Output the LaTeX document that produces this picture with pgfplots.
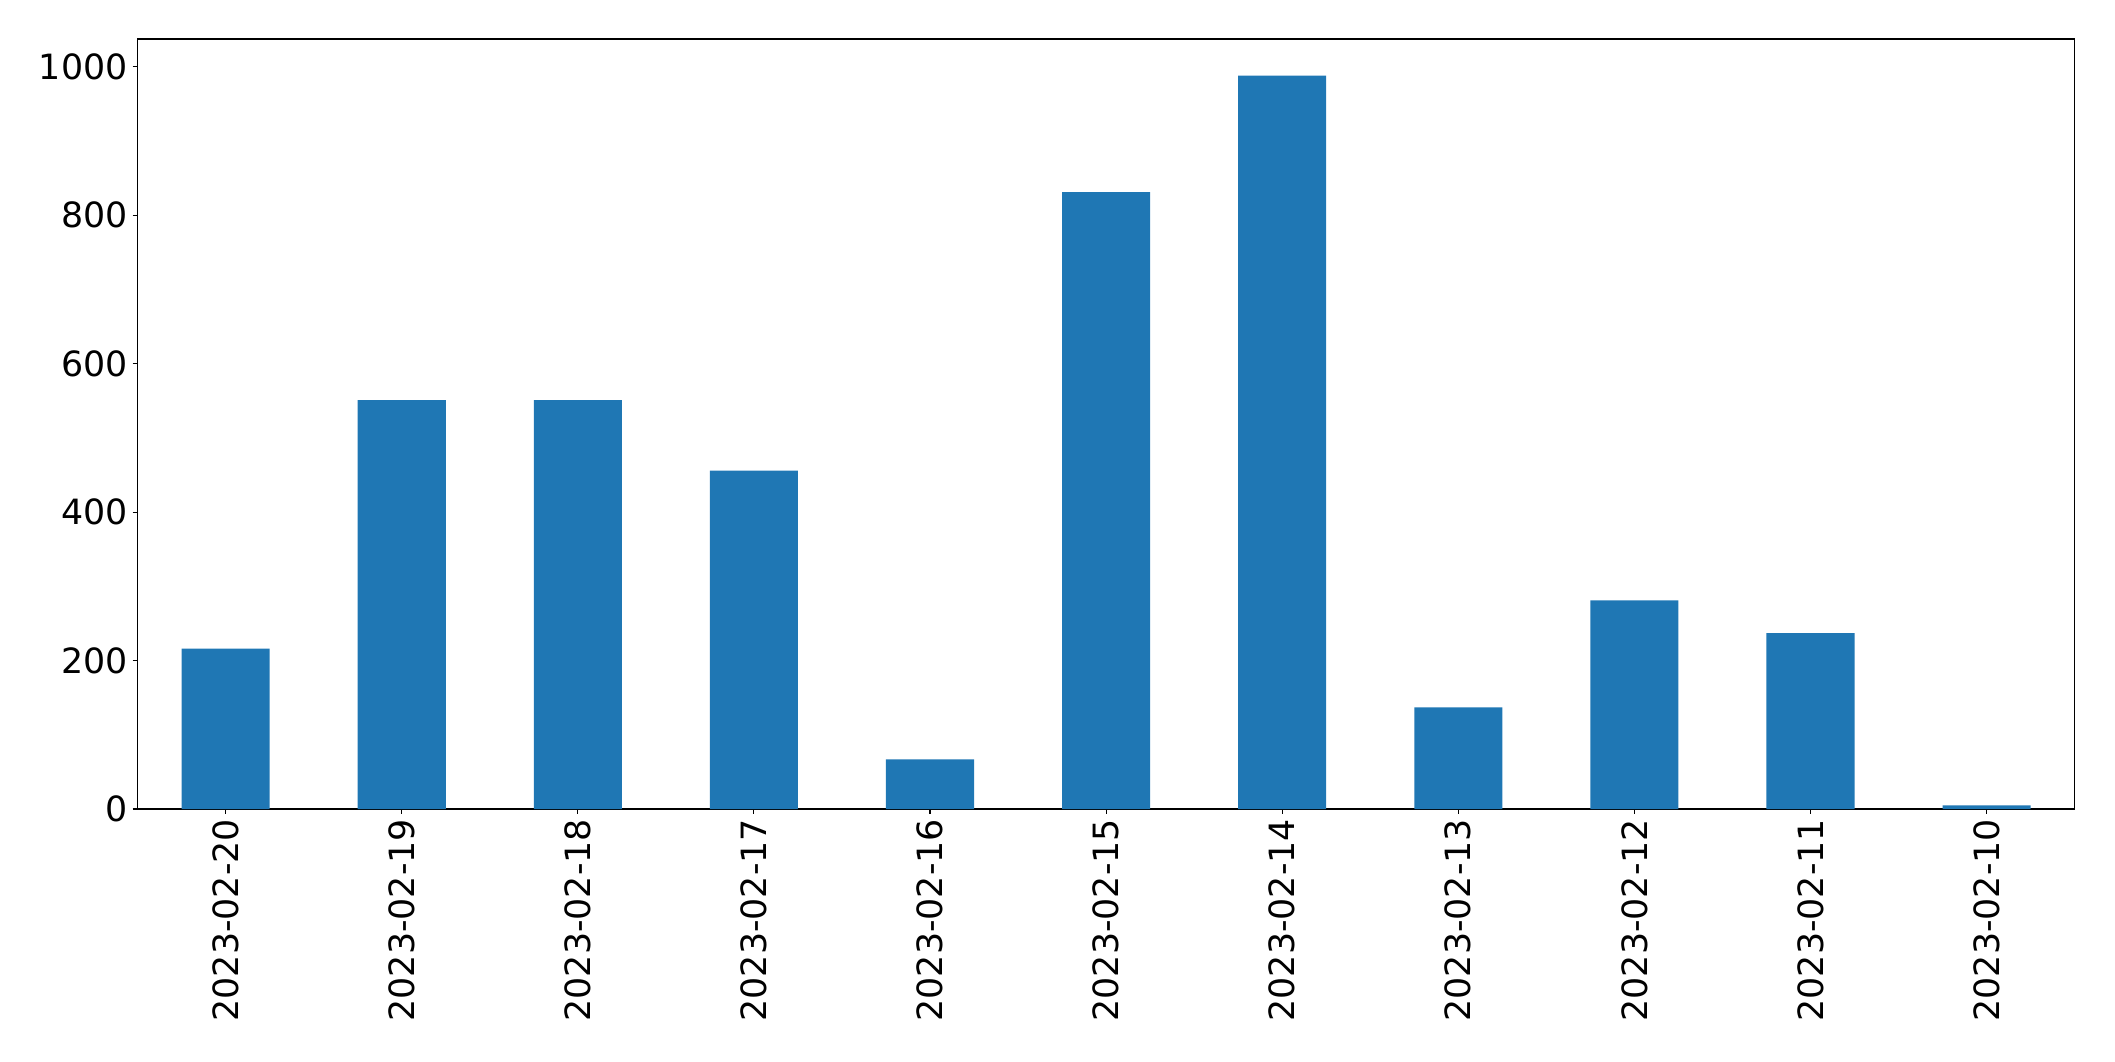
\documentclass[border=0pt]{standalone}
\usepackage{fontspec}
\setmainfont{DejaVu Sans}
\usepackage{pgfplots}
\pgfplotsset{compat=1.18}
\definecolor{mplblue}{HTML}{1F77B4}
\begin{document}
\begin{tikzpicture}
\path[use as bounding box] (-68.8pt,-126pt) rectangle (988.7pt,404.5pt);
\begin{axis}[
  at={(0pt,0pt)}, anchor=south west,
  scale only axis, width=968.5pt, height=385pt,
  xmin=-0.5, xmax=10.5, ymin=0, ymax=1037.4,
  xtick={0,1,2,3,4,5,6,7,8,9,10},
  xticklabels={2023-02-20,2023-02-19,2023-02-18,2023-02-17,2023-02-16,2023-02-15,2023-02-14,2023-02-13,2023-02-12,2023-02-11,2023-02-10},
  x tick label style={rotate=90, anchor=east, inner sep=2.4pt},
  y tick label style={inner sep=2.4pt},
  ytick={0,200,400,600,800,1000},
  tick align=outside, tick pos=left,
  major tick length=2.43pt,
  every tick/.style={black, line width=0.55pt},
  axis line style={line width=0.55pt},
  font=\fontsize{17.4}{21}\selectfont,
  /pgf/number format/assume math mode=true,
  /pgf/number format/1000 sep={},
]
\addplot[ybar, bar width=0.5, fill=mplblue, draw=none] coordinates {
  (0,216) (1,551) (2,551) (3,456) (4,67) (5,831) (6,988) (7,137) (8,281) (9,237) (10,5)
};
\end{axis}
\end{tikzpicture}
\end{document}
